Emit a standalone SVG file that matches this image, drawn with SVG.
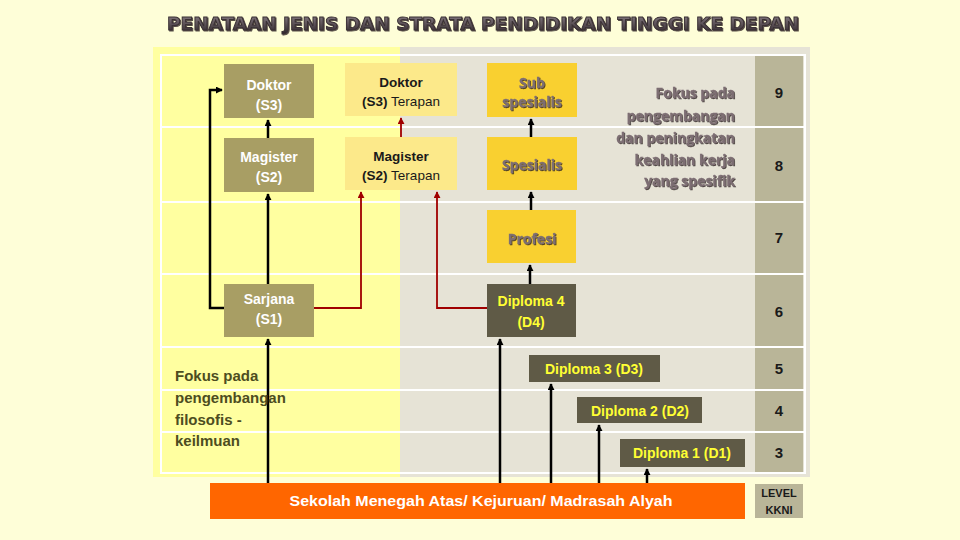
<svg xmlns="http://www.w3.org/2000/svg" width="960" height="540" viewBox="0 0 960 540">
<defs>
<linearGradient id="tg" x1="0" y1="0" x2="0" y2="1">
<stop offset="0" stop-color="#8a7f86"/><stop offset="1" stop-color="#2e2529"/>
</linearGradient>
<marker id="ab" viewBox="0 0 8 8" refX="7" refY="4" markerWidth="7" markerHeight="7" markerUnits="userSpaceOnUse" orient="auto"><path d="M0,0 L8,4 L0,8 Z" fill="#000"/></marker>
<marker id="ar" viewBox="0 0 8 8" refX="7" refY="4" markerWidth="7" markerHeight="7" markerUnits="userSpaceOnUse" orient="auto"><path d="M0,0 L8,4 L0,8 Z" fill="#a00000"/></marker>
<filter id="sh" x="-10%" y="-10%" width="120%" height="130%"><feDropShadow dx="1" dy="1" stdDeviation="0.4" flood-color="#2a2020" flood-opacity="0.8"/></filter>
</defs>
<style>
.kh{fill:#a89e64}
.lt{fill:#fce98a}
.gd{fill:#f9d030}
.dk{fill:#5f5a46}
.lv{fill:#b9b598}
.wt{font-family:"Liberation Sans",Arial,sans-serif;font-weight:bold;font-size:14px;fill:#ffffff;text-anchor:middle}
.bt{font-family:"Liberation Sans",Arial,sans-serif;font-size:13.5px;fill:#1a1a1a;text-anchor:middle}
.yt{font-family:"Liberation Sans",Arial,sans-serif;font-weight:bold;font-size:14px;fill:#ffff33;text-anchor:middle}
.gt{font-family:"Open Sans","Liberation Sans",sans-serif;font-weight:bold;font-size:14px;fill:#7d6e73;stroke:#7d6e73;stroke-width:0.3;filter:url(#sh)}
.lvt{font-family:"Liberation Sans",Arial,sans-serif;font-weight:bold;font-size:15px;fill:#1a1a1a;text-anchor:middle}
.bl{stroke:#000;stroke-width:2.5;fill:none}
.rd{stroke:#a00000;stroke-width:1.8;fill:none}
.wl{stroke:#ffffff;stroke-width:2;fill:none}
</style>
<rect x="0" y="0" width="960" height="540" fill="#fefed8"/>
<text x="483" y="30" font-family="'DejaVu Sans',sans-serif" font-weight="bold" font-size="17" text-anchor="middle" textLength="632" lengthAdjust="spacingAndGlyphs" fill="url(#tg)" stroke="#3a3034" stroke-width="0.9" filter="url(#sh)">PENATAAN JENIS DAN STRATA PENDIDIKAN TINGGI KE DEPAN</text>
<g id="panel">
<rect x="153" y="47" width="247" height="430" fill="#ffffa0"/>
<rect x="400" y="47" width="410" height="430" fill="#e6e3d6"/>
<rect x="161" y="55" width="644" height="418" class="wl"/>
<line x1="161" y1="127" x2="805" y2="127" class="wl"/>
<line x1="161" y1="202" x2="805" y2="202" class="wl"/>
<line x1="161" y1="274" x2="805" y2="274" class="wl"/>
<line x1="161" y1="347" x2="805" y2="347" class="wl"/>
<line x1="161" y1="390" x2="805" y2="390" class="wl"/>
<line x1="161" y1="432" x2="805" y2="432" class="wl"/>
</g>
<g id="levels">
<rect x="755" y="56" width="48" height="70" class="lv"/>
<rect x="755" y="128" width="48" height="73" class="lv"/>
<rect x="755" y="203" width="48" height="70" class="lv"/>
<rect x="755" y="275" width="48" height="71" class="lv"/>
<rect x="755" y="348" width="48" height="41" class="lv"/>
<rect x="755" y="391" width="48" height="40" class="lv"/>
<rect x="755" y="433" width="48" height="39" class="lv"/>
<text x="779" y="98" class="lvt">9</text>
<text x="779" y="171" class="lvt">8</text>
<text x="779" y="243" class="lvt">7</text>
<text x="779" y="317" class="lvt">6</text>
<text x="779" y="374" class="lvt">5</text>
<text x="779" y="416" class="lvt">4</text>
<text x="779" y="458" class="lvt">3</text>
</g>
<g id="connectors">
<path d="M224,308 H210 V90 H222" class="bl" marker-end="url(#ab)"/>
<path d="M268,284 V194" class="bl" marker-end="url(#ab)"/>
<path d="M268,138 V120" class="bl" marker-end="url(#ab)"/>
<path d="M268,483 V339" class="bl" marker-end="url(#ab)"/>
<path d="M314,308 H361 V192" class="rd" marker-end="url(#ar)"/>
<path d="M487,308 H437 V192" class="rd" marker-end="url(#ar)"/>
<path d="M401,137 V118" class="rd" marker-end="url(#ar)"/>
<path d="M531,137 V119" class="bl" marker-end="url(#ab)"/>
<path d="M531,210 V192" class="bl" marker-end="url(#ab)"/>
<path d="M530,284 V265" class="bl" marker-end="url(#ab)"/>
<path d="M500,483 V339" class="bl" marker-end="url(#ab)"/>
<path d="M551,483 V384" class="bl" marker-end="url(#ab)"/>
<path d="M599,483 V425" class="bl" marker-end="url(#ab)"/>
<path d="M647,483 V469" class="bl" marker-end="url(#ab)"/>
</g>
<g id="doktor"><rect x="224" y="64" width="90" height="54" class="kh"/><text x="269" y="90" class="wt">Doktor</text><text x="269" y="110" class="wt">(S3)</text></g>
<g id="magister"><rect x="224" y="138" width="90" height="54" class="kh"/><text x="269" y="162" class="wt">Magister</text><text x="269" y="182" class="wt">(S2)</text></g>
<g id="sarjana"><rect x="224" y="284" width="90" height="53" class="kh"/><text x="269" y="304" class="wt">Sarjana</text><text x="269" y="324" class="wt">(S1)</text></g>
<g id="doktor-terapan"><rect x="345" y="63" width="112" height="53" class="lt"/><text x="401" y="87" class="bt" font-weight="bold">Doktor</text><text x="401" y="106" class="bt"><tspan font-weight="bold">(S3)</tspan> Terapan</text></g>
<g id="magister-terapan"><rect x="345" y="137" width="112" height="53" class="lt"/><text x="401" y="161" class="bt" font-weight="bold">Magister</text><text x="401" y="180" class="bt"><tspan font-weight="bold">(S2)</tspan> Terapan</text></g>
<g id="subspesialis"><rect x="487" y="63" width="90" height="54" class="gd"/><text x="532" y="88" class="gt" text-anchor="middle">Sub</text><text x="532" y="107" class="gt" text-anchor="middle">spesialis</text></g>
<g id="spesialis"><rect x="487" y="137" width="90" height="53" class="gd"/><text x="532" y="170" class="gt" text-anchor="middle">Spesialis</text></g>
<g id="profesi"><rect x="487" y="210" width="89" height="53" class="gd"/><text x="532" y="244" class="gt" text-anchor="middle">Profesi</text></g>
<g id="d4"><rect x="487" y="284" width="89" height="53" class="dk"/><text x="531" y="306" class="yt">Diploma 4</text><text x="531" y="327" class="yt">(D4)</text></g>
<g id="d3"><rect x="529" y="355" width="131" height="27" class="dk"/><text x="594" y="374" class="yt">Diploma 3 (D3)</text></g>
<g id="d2"><rect x="577" y="397" width="125" height="26" class="dk"/><text x="640" y="416" class="yt">Diploma 2 (D2)</text></g>
<g id="d1"><rect x="620" y="439" width="125" height="28" class="dk"/><text x="682" y="458" class="yt">Diploma 1 (D1)</text></g>
<g id="sma"><rect x="210" y="483" width="535" height="36" fill="#ff6600"/><text x="481" y="506" font-family="'Liberation Sans',Arial,sans-serif" font-weight="bold" font-size="15" fill="#ffffff" text-anchor="middle" textLength="383" lengthAdjust="spacingAndGlyphs">Sekolah Menegah Atas/ Kejuruan/ Madrasah Alyah</text></g>
<g id="level-kkni"><rect x="755" y="484" width="48" height="34" class="lv"/><text x="779" y="497" font-family="'Liberation Sans',Arial,sans-serif" font-weight="bold" font-size="11" fill="#1a1a1a" text-anchor="middle">LEVEL</text><text x="779" y="514" font-family="'Liberation Sans',Arial,sans-serif" font-weight="bold" font-size="11" fill="#1a1a1a" text-anchor="middle">KKNI</text></g>
<g id="fokus-left" font-family="'Liberation Sans',Arial,sans-serif" font-weight="bold" font-size="15" fill="#4d4d1f">
<text x="175" y="381">Fokus pada</text>
<text x="175" y="403">pengembangan</text>
<text x="175" y="425">filosofis -</text>
<text x="175" y="446">keilmuan</text>
</g>
<g id="fokus-right" text-anchor="end">
<text x="735" y="98" class="gt" font-size="15">Fokus pada</text>
<text x="735" y="121" class="gt" font-size="15">pengembangan</text>
<text x="735" y="143" class="gt" font-size="15">dan peningkatan</text>
<text x="735" y="165" class="gt" font-size="15">keahlian  kerja</text>
<text x="735" y="186" class="gt" font-size="15">yang spesifik</text>
</g>
</svg>
